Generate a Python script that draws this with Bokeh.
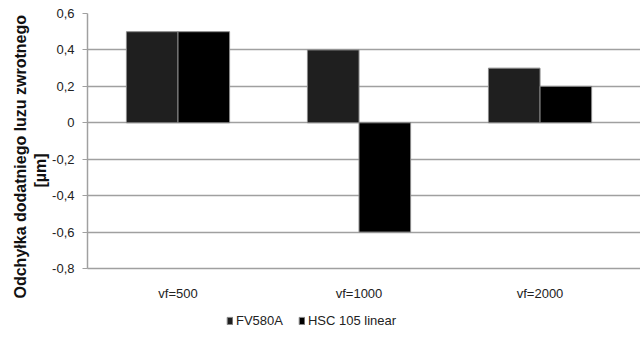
import numpy as np
from bokeh.plotting import figure
from bokeh.layouts import column
from bokeh.models import (ColumnDataSource, Range1d, FixedTicker, CustomJSTickFormatter,
                          Legend, LegendItem, Title)
from bokeh.transform import dodge
from bokeh.embed import file_html
from bokeh.resources import INLINE

categories = ["vf=500", "vf=1000", "vf=2000"]
series_names = ["FV580A", "HSC 105 linear"]
fv580a = [0.5, 0.4, 0.3]
hsc105 = [0.5, -0.6, 0.2]
y_ticks = [-0.8, -0.6, -0.4, -0.2, 0.0, 0.2, 0.4, 0.6]
y_title = ["Odchyłka dodatniego luzu zwrotnego", "[µm]"]
colors = ["#1f1f1f", "#000000"]

xpos = np.arange(len(categories)) + 0.5
src = ColumnDataSource(dict(x=xpos, fv=fv580a, hsc=hsc105))

p = figure(frame_width=553, frame_height=255, output_backend="svg", toolbar_location=None,
           x_range=Range1d(0, len(categories) + 0.055), y_range=Range1d(-0.8, 0.6))
p.min_border_left = 87
p.min_border_right = 0
p.min_border_top = 13
p.min_border_bottom = 37
p.outline_line_color = None
p.background_fill_color = "white"
p.border_fill_color = "white"

bw = 0.285
p.vbar(x=dodge("x", -bw / 2), top="fv", bottom=0, width=bw, source=src,
       fill_color=colors[0], line_color="#8a8a8a", line_width=1)
p.vbar(x=dodge("x", bw / 2), top="hsc", bottom=0, width=bw, source=src,
       fill_color=colors[1], line_color="#8a8a8a", line_width=1)

# grid
p.xgrid.visible = False
p.ygrid.ticker = FixedTicker(ticks=y_ticks)
p.ygrid.grid_line_color = "#a0a0a0"
p.ygrid.grid_line_width = 1.5
p.ygrid.level = "underlay"

# y axis
p.yaxis.ticker = FixedTicker(ticks=y_ticks)
p.yaxis.formatter = CustomJSTickFormatter(code="""
if (Math.abs(tick) < 1e-9) return '0';
return tick.toFixed(1).replace('.', ',');
""")
p.yaxis.axis_line_color = "#a0a0a0"
p.yaxis.axis_line_width = 1.5
p.yaxis.major_tick_line_color = "#a0a0a0"
p.yaxis.major_tick_out = 5
p.yaxis.major_tick_in = 0
p.yaxis.minor_tick_line_color = None
p.yaxis.major_label_standoff = 8
p.yaxis.major_label_text_font = "Liberation Sans"
p.yaxis.major_label_text_font_size = "13px"
p.yaxis.major_label_text_color = "#222222"

offsets = {"[µm]": 81, "Odchyłka dodatniego luzu zwrotnego": -30}
for txt in reversed(y_title):
    t = Title(text=txt, text_font="Liberation Sans", text_font_style="bold",
              text_font_size="16px", text_color="#111111", align="left",
              offset=offsets[txt], standoff=1)
    p.add_layout(t, "left")

# x axis
p.xaxis.ticker = FixedTicker(ticks=list(xpos))
p.xaxis.major_label_overrides = {float(x): c for x, c in zip(xpos, categories)}
p.xaxis.axis_line_color = "#a0a0a0"
p.xaxis.axis_line_width = 1.5
p.xaxis.major_tick_line_color = None
p.xaxis.minor_tick_line_color = None
p.xaxis.major_label_standoff = 11
p.xaxis.major_label_text_font = "Liberation Sans"
p.xaxis.major_label_text_font_size = "13px"
p.xaxis.major_label_text_color = "#222222"

# legend strip (separate figure so the legend can sit below the axis)
pl = figure(frame_width=640, frame_height=35, output_backend="svg", toolbar_location=None,
            x_range=Range1d(0, len(categories)), y_range=Range1d(10, 11),
            x_axis_type=None, y_axis_type=None)
pl.min_border = 0
pl.outline_line_color = None
pl.grid.visible = False
l1 = pl.vbar(x="x", top="fv", bottom=0, width=bw, source=src,
             fill_color=colors[0], line_color="#8a8a8a", line_width=1)
l2 = pl.vbar(x="x", top="hsc", bottom=0, width=bw, source=src,
             fill_color=colors[1], line_color="#8a8a8a", line_width=1)

legend = Legend(items=[LegendItem(label=series_names[0], renderers=[l1]),
                       LegendItem(label=series_names[1], renderers=[l2])],
                orientation="horizontal", location=(226, 12))
legend.border_line_color = None
legend.background_fill_alpha = 0
legend.glyph_width = 7
legend.glyph_height = 9
legend.label_height = 14
legend.label_text_font = "Liberation Sans"
legend.label_text_font_size = "13px"
legend.label_text_color = "#222222"
legend.label_standoff = 3
legend.spacing = 15
legend.padding = 2
legend.margin = 0
pl.add_layout(legend, "center")

layout = column(p, pl, spacing=0)
open("out.html", "w").write(file_html(layout, INLINE))
